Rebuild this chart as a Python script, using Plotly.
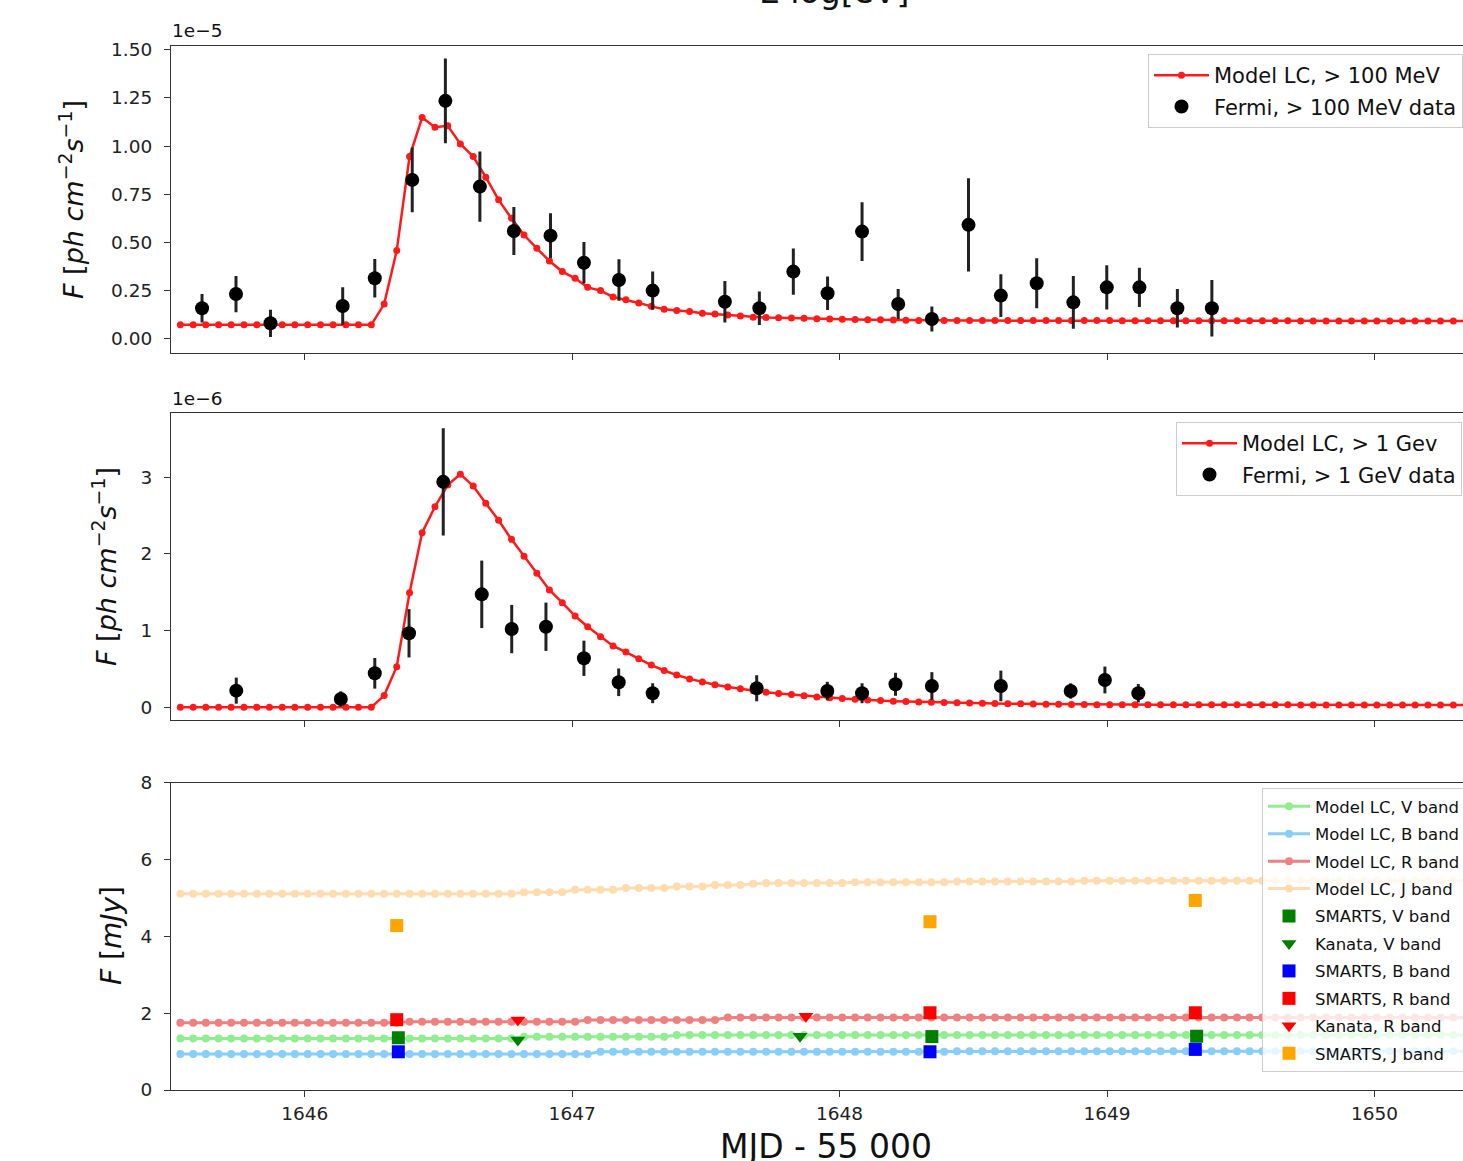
import plotly.graph_objects as go

# ---------------- data ----------------
# model time grid (MJD - 55000)
T_MODEL = [
    1645.535, 1645.583, 1645.630, 1645.678, 1645.725, 1645.773, 1645.821, 1645.868, 1645.916, 1645.963,
    1646.011, 1646.059, 1646.106, 1646.154, 1646.201, 1646.249, 1646.297, 1646.344, 1646.392, 1646.439,
    1646.487, 1646.535, 1646.582, 1646.630, 1646.677, 1646.725, 1646.773, 1646.820, 1646.868, 1646.915,
    1646.963, 1647.011, 1647.058, 1647.106, 1647.153, 1647.201, 1647.249, 1647.296, 1647.344, 1647.391,
    1647.439, 1647.487, 1647.534, 1647.582, 1647.629, 1647.677, 1647.725, 1647.772, 1647.820, 1647.867,
    1647.915, 1647.963, 1648.010, 1648.058, 1648.105, 1648.153, 1648.201, 1648.248, 1648.296, 1648.343,
    1648.391, 1648.439, 1648.486, 1648.534, 1648.581, 1648.629, 1648.677, 1648.724, 1648.772, 1648.819,
    1648.867, 1648.915, 1648.962, 1649.010, 1649.057, 1649.105, 1649.153, 1649.200, 1649.248, 1649.295,
    1649.343, 1649.391, 1649.438, 1649.486, 1649.533, 1649.581, 1649.629, 1649.676, 1649.724, 1649.771,
    1649.819, 1649.867, 1649.914, 1649.962, 1650.009, 1650.057, 1650.105, 1650.152, 1650.200, 1650.247,
    1650.295, 1650.343,
]

# Model LC > 100 MeV  (units of 1e-5 ph cm^-2 s^-1)
MODEL_100MEV = [
    0.070, 0.070, 0.070, 0.070, 0.070, 0.070, 0.070, 0.070, 0.070, 0.070,
    0.070, 0.070, 0.070, 0.070, 0.070, 0.070, 0.178, 0.456, 0.945, 1.148,
    1.098, 1.105, 1.011, 0.945, 0.838, 0.720, 0.624, 0.537, 0.468, 0.402,
    0.347, 0.312, 0.265, 0.248, 0.215, 0.200, 0.184, 0.166, 0.151, 0.144,
    0.139, 0.130, 0.126, 0.121, 0.116, 0.110, 0.108, 0.107, 0.105, 0.104,
    0.102, 0.100, 0.099, 0.098, 0.097, 0.096, 0.095, 0.094, 0.093, 0.092,
    0.092, 0.092, 0.092, 0.092, 0.092, 0.092, 0.092, 0.092, 0.092, 0.092,
    0.092, 0.092, 0.092, 0.092, 0.091, 0.091, 0.091, 0.091, 0.091, 0.091,
    0.091, 0.091, 0.091, 0.091, 0.091, 0.091, 0.091, 0.091, 0.090, 0.090,
    0.090, 0.090, 0.090, 0.090, 0.090, 0.090, 0.090, 0.090, 0.090, 0.090,
    0.090, 0.090,
]

# Model LC > 1 GeV  (units of 1e-6 ph cm^-2 s^-1)
MODEL_1GEV = [
    0.000, 0.000, 0.000, 0.000, 0.000, 0.000, 0.000, 0.000, 0.000, 0.000,
    0.000, 0.000, 0.000, 0.000, 0.000, 0.000, 0.152, 0.530, 1.494, 2.277,
    2.615, 2.900, 3.040, 2.885, 2.660, 2.440, 2.190, 1.970, 1.747, 1.530,
    1.364, 1.190, 1.050, 0.920, 0.800, 0.720, 0.634, 0.550, 0.480, 0.420,
    0.370, 0.330, 0.295, 0.265, 0.240, 0.215, 0.195, 0.180, 0.165, 0.150,
    0.135, 0.125, 0.115, 0.105, 0.095, 0.088, 0.080, 0.075, 0.070, 0.066,
    0.062, 0.058, 0.055, 0.052, 0.050, 0.047, 0.045, 0.043, 0.041, 0.039,
    0.037, 0.035, 0.034, 0.033, 0.032, 0.032, 0.032, 0.032, 0.032, 0.032,
    0.032, 0.032, 0.032, 0.032, 0.032, 0.032, 0.032, 0.032, 0.030, 0.030,
    0.030, 0.030, 0.030, 0.030, 0.030, 0.030, 0.030, 0.030, 0.030, 0.030,
    0.030, 0.030,
]

# Optical / NIR model light curves (mJy)
MODEL_V = [
    1.340, 1.340, 1.340, 1.340, 1.340, 1.340, 1.340, 1.340, 1.340, 1.340,
    1.340, 1.340, 1.340, 1.340, 1.340, 1.340, 1.340, 1.340, 1.340, 1.340,
    1.340, 1.340, 1.340, 1.340, 1.340, 1.340, 1.340, 1.385, 1.385, 1.385,
    1.385, 1.385, 1.385, 1.385, 1.385, 1.385, 1.385, 1.385, 1.385, 1.430,
    1.430, 1.430, 1.430, 1.430, 1.430, 1.430, 1.430, 1.430, 1.430, 1.430,
    1.430, 1.430, 1.430, 1.430, 1.430, 1.430, 1.430, 1.430, 1.430, 1.430,
    1.430, 1.430, 1.430, 1.430, 1.430, 1.430, 1.430, 1.430, 1.430, 1.430,
    1.430, 1.430, 1.430, 1.430, 1.430, 1.430, 1.430, 1.430, 1.430, 1.430,
    1.430, 1.430, 1.430, 1.430, 1.430, 1.430, 1.430, 1.430, 1.430, 1.430,
    1.430, 1.430, 1.430, 1.430, 1.430, 1.430, 1.430, 1.430, 1.430, 1.430,
    1.430, 1.430,
]
MODEL_B = [
    0.935, 0.935, 0.935, 0.935, 0.935, 0.935, 0.935, 0.935, 0.935, 0.935,
    0.935, 0.935, 0.935, 0.935, 0.935, 0.935, 0.935, 0.935, 0.935, 0.935,
    0.935, 0.935, 0.935, 0.935, 0.935, 0.935, 0.935, 0.935, 0.935, 0.935,
    0.935, 0.935, 0.935, 0.995, 0.995, 0.995, 0.995, 0.995, 0.995, 0.995,
    0.995, 0.995, 0.995, 0.995, 0.995, 0.995, 0.995, 0.995, 0.995, 0.995,
    0.995, 0.995, 0.995, 0.995, 0.995, 0.995, 0.995, 0.995, 0.995, 0.995,
    0.995, 1.010, 1.010, 1.010, 1.010, 1.010, 1.010, 1.010, 1.010, 1.010,
    1.010, 1.010, 1.010, 1.010, 1.010, 1.010, 1.010, 1.010, 1.010, 1.010,
    1.010, 1.010, 1.010, 1.010, 1.010, 1.010, 1.010, 1.010, 1.010, 1.010,
    1.010, 1.010, 1.010, 1.010, 1.010, 1.010, 1.010, 1.010, 1.010, 1.010,
    1.010, 1.010,
]
MODEL_R = [
    1.750, 1.750, 1.750, 1.750, 1.750, 1.750, 1.750, 1.750, 1.750, 1.750,
    1.750, 1.750, 1.750, 1.750, 1.750, 1.750, 1.750, 1.750, 1.780, 1.780,
    1.780, 1.780, 1.780, 1.780, 1.780, 1.780, 1.780, 1.780, 1.780, 1.780,
    1.780, 1.780, 1.820, 1.820, 1.820, 1.820, 1.820, 1.820, 1.820, 1.820,
    1.820, 1.820, 1.820, 1.890, 1.890, 1.890, 1.890, 1.890, 1.890, 1.890,
    1.890, 1.890, 1.890, 1.890, 1.890, 1.890, 1.890, 1.890, 1.890, 1.890,
    1.890, 1.890, 1.890, 1.890, 1.890, 1.890, 1.890, 1.890, 1.890, 1.890,
    1.890, 1.890, 1.890, 1.890, 1.890, 1.890, 1.890, 1.890, 1.890, 1.890,
    1.890, 1.890, 1.890, 1.890, 1.890, 1.890, 1.890, 1.890, 1.890, 1.890,
    1.890, 1.890, 1.890, 1.890, 1.890, 1.890, 1.890, 1.890, 1.890, 1.890,
    1.890, 1.890,
]
MODEL_J = [
    5.110, 5.110, 5.110, 5.110, 5.110, 5.110, 5.110, 5.110, 5.110, 5.110,
    5.110, 5.110, 5.110, 5.110, 5.110, 5.110, 5.110, 5.110, 5.110, 5.110,
    5.110, 5.110, 5.110, 5.110, 5.110, 5.110, 5.110, 5.150, 5.150, 5.150,
    5.150, 5.210, 5.210, 5.210, 5.210, 5.260, 5.260, 5.260, 5.260, 5.300,
    5.300, 5.300, 5.340, 5.340, 5.340, 5.370, 5.390, 5.390, 5.390, 5.390,
    5.390, 5.390, 5.390, 5.410, 5.410, 5.410, 5.410, 5.410, 5.410, 5.410,
    5.410, 5.430, 5.430, 5.430, 5.430, 5.430, 5.430, 5.430, 5.430, 5.430,
    5.430, 5.450, 5.450, 5.450, 5.450, 5.450, 5.450, 5.450, 5.450, 5.450,
    5.450, 5.450, 5.450, 5.450, 5.450, 5.450, 5.450, 5.450, 5.450, 5.450,
    5.450, 5.450, 5.450, 5.450, 5.450, 5.450, 5.450, 5.450, 5.450, 5.450,
    5.450, 5.450,
]

# Fermi > 100 MeV data (1e-5 ph cm^-2 s^-1)
FERMI100_T = [1645.616, 1645.743, 1645.872, 1646.142, 1646.262, 1646.402, 1646.526,
              1646.655, 1646.782, 1646.919, 1647.044, 1647.175, 1647.301, 1647.571,
              1647.700, 1647.827, 1647.955, 1648.084, 1648.219, 1648.345, 1648.482,
              1648.603, 1648.737, 1648.874, 1648.999, 1649.121, 1649.263, 1649.392]
FERMI100_F = [0.156, 0.230, 0.078, 0.168, 0.312, 0.824, 1.235, 0.789, 0.558, 0.534,
              0.393, 0.303, 0.248, 0.190, 0.156, 0.347, 0.234, 0.555, 0.178, 0.100,
              0.590, 0.222, 0.286, 0.187, 0.265, 0.265, 0.156, 0.156]
FERMI100_E = [0.074, 0.094, 0.071, 0.098, 0.100, 0.168, 0.221, 0.183, 0.125, 0.117,
              0.108, 0.108, 0.100, 0.108, 0.087, 0.120, 0.087, 0.153, 0.078, 0.065,
              0.243, 0.111, 0.130, 0.137, 0.115, 0.102, 0.100, 0.147]

# Fermi > 1 GeV data (1e-6 ph cm^-2 s^-1)
FERMI1G_T = [1645.744, 1646.135, 1646.262, 1646.390, 1646.518, 1646.662, 1646.774,
             1646.902, 1647.044, 1647.174, 1647.301, 1647.690, 1647.954, 1648.084,
             1648.209, 1648.345, 1648.603, 1648.864, 1648.992, 1649.117]
FERMI1G_F = [0.217, 0.108, 0.443, 0.965, 2.940, 1.473, 1.020, 1.050, 0.639, 0.326,
             0.183, 0.248, 0.212, 0.183, 0.300, 0.278, 0.278, 0.212, 0.356, 0.183]
FERMI1G_E = [0.170, 0.100, 0.200, 0.315, 0.700, 0.440, 0.315, 0.315, 0.230, 0.180,
             0.130, 0.170, 0.120, 0.130, 0.150, 0.180, 0.200, 0.100, 0.175, 0.120]

# Optical / NIR data (mJy)
SMARTS_V_T = [1646.350, 1648.345, 1649.335]
SMARTS_V_F = [1.360, 1.390, 1.400]
KANATA_V_T = [1646.797, 1647.852]
KANATA_V_F = [1.300, 1.400]
SMARTS_B_T = [1646.350, 1648.338, 1649.330]
SMARTS_B_F = [0.995, 0.995, 1.057]
SMARTS_R_T = [1646.344, 1648.338, 1649.330, 1650.340]
SMARTS_R_F = [1.830, 2.010, 2.010, 1.950]
KANATA_R_T = [1646.797, 1647.874]
KANATA_R_F = [1.820, 1.920]
SMARTS_J_T = [1646.344, 1648.338, 1649.330, 1650.340]
SMARTS_J_F = [4.280, 4.380, 4.935, 4.860]

X_TICKS = [1646, 1647, 1648, 1649, 1650]
Y1_TICKS = [0.0, 0.25, 0.5, 0.75, 1.0, 1.25, 1.5]
Y1_LABELS = ["0.00", "0.25", "0.50", "0.75", "1.00", "1.25", "1.50"]
Y2_TICKS = [0, 1, 2, 3]
Y3_TICKS = [0, 2, 4, 6, 8]

# ---------------- layout helpers ----------------
W, H = 1463, 1161
L = 171
PW = W - L
FONT = "DejaVu Sans"


def fx(px):
    return (px - L) / PW


def fy(py):
    return 1 - py / H


fig = go.Figure()

# Panel 1
fig.add_trace(go.Scatter(x=T_MODEL, y=MODEL_100MEV, mode="lines+markers",
                         name="Model LC, > 100 MeV", line=dict(color="#ff1a1a", width=2.5),
                         marker=dict(color="#ff1a1a", size=7), xaxis="x", yaxis="y",
                         legend="legend", legendgroup="a1"))
fig.add_trace(go.Scatter(x=FERMI100_T, y=FERMI100_F, mode="markers",
                         name="Fermi, > 100 MeV data",
                         error_y=dict(type="data", array=FERMI100_E, color="#222222", thickness=3, width=0),
                         marker=dict(color="black", size=14), xaxis="x", yaxis="y",
                         legend="legend", legendgroup="a2"))

# Panel 2
fig.add_trace(go.Scatter(x=T_MODEL, y=MODEL_1GEV, mode="lines+markers",
                         name="Model LC, > 1 Gev", line=dict(color="#ff1a1a", width=2.5),
                         marker=dict(color="#ff1a1a", size=7), xaxis="x2", yaxis="y2",
                         legend="legend2", legendgroup="b1"))
fig.add_trace(go.Scatter(x=FERMI1G_T, y=FERMI1G_F, mode="markers",
                         name="Fermi, > 1 GeV data",
                         error_y=dict(type="data", array=FERMI1G_E, color="#222222", thickness=3, width=0),
                         marker=dict(color="black", size=14), xaxis="x2", yaxis="y2",
                         legend="legend2", legendgroup="b2"))

# Panel 3 models
models3 = [
    ("Model LC, V band", MODEL_V, "lightgreen"),
    ("Model LC, B band", MODEL_B, "lightskyblue"),
    ("Model LC, R band", MODEL_R, "lightcoral"),
    ("Model LC, J band", MODEL_J, "#ffdcae"),
]
for i, (nm, yy, col) in enumerate(models3):
    fig.add_trace(go.Scatter(x=T_MODEL, y=yy, mode="lines+markers", name=nm,
                             line=dict(color=col, width=3), marker=dict(color=col, size=8),
                             xaxis="x3", yaxis="y3", legend="legend3", legendgroup=f"c{i}"))

data3 = [
    ("SMARTS, V band", SMARTS_V_T, SMARTS_V_F, "green", "square"),
    ("Kanata, V band", KANATA_V_T, KANATA_V_F, "green", "triangle-down"),
    ("SMARTS, B band", SMARTS_B_T, SMARTS_B_F, "blue", "square"),
    ("SMARTS, R band", SMARTS_R_T, SMARTS_R_F, "red", "square"),
    ("Kanata, R band", KANATA_R_T, KANATA_R_F, "red", "triangle-down"),
    ("SMARTS, J band", SMARTS_J_T, SMARTS_J_F, "orange", "square"),
]
for i, (nm, xx, yy, col, sym) in enumerate(data3):
    fig.add_trace(go.Scatter(x=xx, y=yy, mode="markers", name=nm,
                             marker=dict(color=col, symbol=sym, size=13, line=dict(width=0)),
                             cliponaxis=False,
                             xaxis="x3", yaxis="y3", legend="legend3", legendgroup=f"d{i}"))

XR = [1645.5, 1650.331]
axis_common = dict(showline=True, linecolor="#333333", linewidth=1.2, ticks="outside",
                   ticklen=6, tickwidth=1.2, tickcolor="#333333", showgrid=False, zeroline=False,
                   tickfont=dict(family=FONT, size=18.5, color="#222222"))

fig.update_layout(
    width=W, height=H, template="none",
    paper_bgcolor="white", plot_bgcolor="white",
    margin=dict(l=L, r=0, t=0, b=0, autoexpand=False),
    showlegend=True,
    xaxis=dict(domain=[0, 1], anchor="y", range=XR, tickvals=X_TICKS, showticklabels=False,
               mirror=True, **axis_common),
    xaxis2=dict(domain=[0, 1], anchor="y2", range=XR, tickvals=X_TICKS, showticklabels=False,
                mirror=True, **axis_common),
    xaxis3=dict(domain=[0, 1], anchor="y3", range=XR, tickvals=X_TICKS, showticklabels=True,
                mirror=True, ticklabelstandoff=1, **axis_common),
    yaxis=dict(domain=[fy(352.7), fy(45.7)], anchor="x", range=[-0.075, 1.522],
               tickvals=Y1_TICKS, ticktext=Y1_LABELS, ticklabelstandoff=8, **axis_common),
    yaxis2=dict(domain=[fy(720), fy(413.3)], anchor="x2", range=[-0.166, 3.834],
                tickvals=Y2_TICKS, ticklabelstandoff=8, **axis_common),
    yaxis3=dict(domain=[fy(1090), fy(782.7)], anchor="x3", range=[0, 8],
                tickvals=Y3_TICKS, ticklabelstandoff=8, **axis_common),
    legend=dict(x=fx(1148), y=fy(54), xanchor="left", yanchor="top",
                bgcolor="rgba(255,255,255,0.8)", bordercolor="#cccccc", borderwidth=1,
                font=dict(family=FONT, size=21, color="#111111"), itemwidth=55,
                tracegroupgap=1),
    legend2=dict(x=fx(1176), y=fy(422), xanchor="left", yanchor="top",
                 bgcolor="rgba(255,255,255,0.8)", bordercolor="#cccccc", borderwidth=1,
                 font=dict(family=FONT, size=21, color="#111111"), itemwidth=55,
                 tracegroupgap=1),
    legend3=dict(x=fx(1262), y=fy(788), xanchor="left", yanchor="top",
                 bgcolor="rgba(255,255,255,0.8)", bordercolor="#cccccc", borderwidth=1,
                 font=dict(family=FONT, size=16.5, color="#111111"), itemwidth=42,
                 tracegroupgap=3),
)

ann_font = dict(family=FONT, color="#111111")
YLAB = "<i>F</i> [<i>ph cm</i><sup>\u22122</sup><i>s</i><sup>\u22121</sup>]"
annotations = [
    dict(text="1e\u22125", x=fx(170), y=fy(31), xanchor="left", yanchor="middle",
         font=dict(size=18.5, **ann_font)),
    dict(text="1e\u22126", x=fx(170), y=fy(398), xanchor="left", yanchor="middle",
         font=dict(size=18.5, **ann_font)),
    dict(text=YLAB, x=fx(72), y=fy(200), textangle=-90, xanchor="center", yanchor="middle",
         font=dict(size=27, **ann_font)),
    dict(text=YLAB, x=fx(104), y=fy(567), textangle=-90, xanchor="center", yanchor="middle",
         font=dict(size=27, **ann_font)),
    dict(text="<i>F</i> [<i>mJy</i>]",
         x=fx(111), y=fy(936), textangle=-90, xanchor="center", yanchor="middle",
         font=dict(size=28, **ann_font)),
    dict(text="MJD - 55 000", x=fx(826), y=fy(1146), xanchor="center", yanchor="middle",
         font=dict(size=33, **ann_font)),
    dict(text="E log[eV]", x=fx(834), y=fy(-8), xanchor="center", yanchor="middle",
         font=dict(size=33, **ann_font)),
]
for a in annotations:
    a.update(xref="paper", yref="paper", showarrow=False)
fig.update_layout(annotations=annotations)

fig.write_html("out.html")
